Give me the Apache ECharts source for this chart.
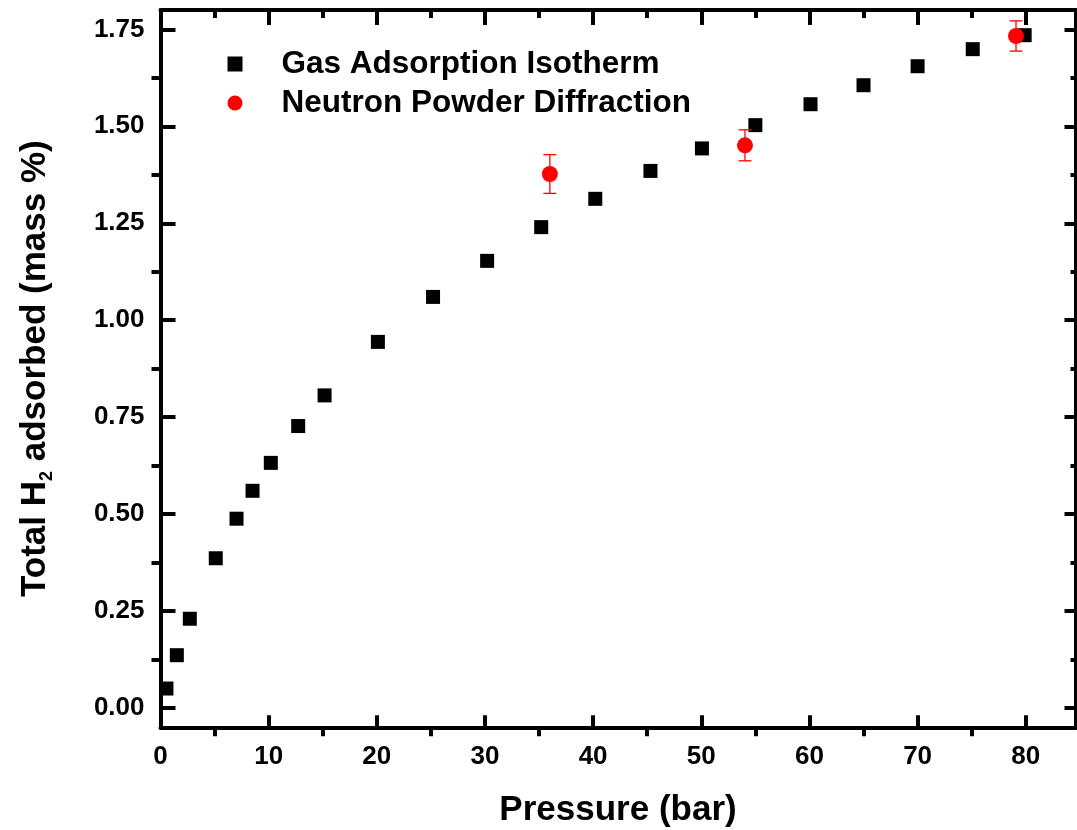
<!DOCTYPE html>
<html>
<head>
<meta charset="utf-8">
<title>Total H2 adsorbed vs pressure</title>
<script src="https://cdn.jsdelivr.net/npm/echarts@6/dist/echarts.min.js"></script>
<style>
  html, body { margin: 0; padding: 0; background: #fff; }
  #chart { width: 1077px; height: 830px; }
</style>
</head>
<body>
<div id="chart"></div>
<script>
// Gas adsorption isotherm: pressure (bar) and total H2 uptake (mass %)
const gasPressure = [0.55, 1.51, 2.71, 5.11, 7.03, 8.51, 10.2, 12.73, 15.17, 20.1, 25.2, 30.2,
                     35.2, 40.2, 45.3, 50.06, 55.0, 60.1, 65.0, 70.0, 75.1, 79.9];
const gasUptake   = [0.050, 0.136, 0.230, 0.386, 0.488, 0.560, 0.632, 0.727, 0.806, 0.944, 1.060, 1.153,
                     1.240, 1.313, 1.385, 1.443, 1.503, 1.557, 1.606, 1.655, 1.699, 1.735];

// Neutron powder diffraction: pressure, uptake and its uncertainty
const npdPressure = [36.0, 54.04, 79.1];
const npdUptake   = [1.377, 1.451, 1.733];
const npdError    = [0.050, 0.040, 0.039];

// Axis ticks
const xMajorTicks = [0, 10, 20, 30, 40, 50, 60, 70, 80];
const xMinorTicks = [5, 15, 25, 35, 45, 55, 65, 75];
const yMajorTicks = [0, 0.25, 0.5, 0.75, 1.0, 1.25, 1.5, 1.75];
const yMinorTicks = [0.125, 0.375, 0.625, 0.875, 1.125, 1.375, 1.625];

const seriesNames = ['Gas Adsorption Isotherm', 'Neutron Powder Diffraction'];

const FONT = "'Liberation Sans', Arial, Helvetica, sans-serif";
const INK = '#000';
const RED = '#ff0000';
const AXIS_W = 4;
const X_RANGE = { min: 0, max: 84.6 };
const Y_RANGE = { min: -0.05, max: 1.8 };

function tickAxis(extra) {
  return Object.assign({
    type: 'value',
    splitLine: { show: false },
    axisLabel: { show: false },
    axisLine: { show: false, onZero: false },
    axisPointer: { show: false }
  }, extra);
}

function lineStyle() {
  return { color: INK, width: AXIS_W };
}

const labelStyle = {
  fontFamily: FONT, fontWeight: 'bold', fontSize: 26, color: INK
};

const chart = echarts.init(document.getElementById('chart'), null, { renderer: 'canvas' });

chart.setOption({
  animation: false,
  backgroundColor: '#fff',
  grid: {
    left: 160.5, right: 1.5, top: 10, bottom: 102.7,
    containLabel: false, outerBoundsMode: 'none'
  },
  legend: {
    data: [
      { name: seriesNames[0], icon: 'rect' },
      { name: seriesNames[1], icon: 'circle' }
    ],
    orient: 'vertical',
    left: 222.5,
    top: 42,
    itemWidth: 15,
    itemHeight: 15,
    itemGap: 5,
    selectedMode: false,
    itemStyle: { opacity: 1 },
    textStyle: {
      fontFamily: FONT, fontWeight: 'bold', fontSize: 31.5, color: INK,
      lineHeight: 34, padding: [0, 0, 0, 34]
    }
  },
  xAxis: [
    tickAxis(Object.assign({}, X_RANGE, {
      position: 'bottom',
      axisLine: { show: true, onZero: false, lineStyle: lineStyle() },
      axisTick: { show: true, inside: true, length: 12, customValues: xMajorTicks, lineStyle: lineStyle() },
      axisLabel: { show: true, margin: 17, customValues: xMajorTicks, ...labelStyle },
      name: 'Pressure (bar)',
      nameLocation: 'middle',
      nameGap: 66,
      nameTextStyle: { fontFamily: FONT, fontWeight: 'bold', fontSize: 35, color: INK }
    })),
    tickAxis(Object.assign({}, X_RANGE, {
      position: 'bottom',
      axisTick: { show: true, inside: false, length: 9, customValues: xMinorTicks, lineStyle: lineStyle() }
    })),
    tickAxis(Object.assign({}, X_RANGE, {
      position: 'top',
      axisLine: { show: true, onZero: false, lineStyle: lineStyle() },
      axisTick: { show: true, inside: true, length: 15, customValues: xMajorTicks, lineStyle: lineStyle() }
    })),
    tickAxis(Object.assign({}, X_RANGE, {
      position: 'top',
      axisTick: { show: true, inside: true, length: 8, customValues: xMinorTicks, lineStyle: lineStyle() }
    }))
  ],
  yAxis: [
    tickAxis(Object.assign({}, Y_RANGE, {
      position: 'left',
      axisLine: { show: true, onZero: false, lineStyle: lineStyle() },
      axisTick: { show: true, inside: true, length: 15, customValues: yMajorTicks, lineStyle: lineStyle() },
      axisLabel: {
        show: true, margin: 16, customValues: yMajorTicks, ...labelStyle,
        formatter: v => Number(v).toFixed(2)
      },
      name: '{b|Total H}{s|2}{b| adsorbed (mass %)}',
      nameLocation: 'middle',
      nameGap: 104,
      nameTextStyle: {
        rich: {
          b: { fontFamily: FONT, fontWeight: 'bold', fontSize: 35, color: INK, lineHeight: 42 },
          s: { fontFamily: FONT, fontWeight: 'bold', fontSize: 18, color: INK, lineHeight: 17, verticalAlign: 'bottom' }
        }
      }
    })),
    tickAxis(Object.assign({}, Y_RANGE, {
      position: 'left',
      axisTick: { show: true, inside: false, length: 9, customValues: yMinorTicks, lineStyle: lineStyle() }
    })),
    tickAxis(Object.assign({}, Y_RANGE, {
      position: 'right',
      axisLine: { show: true, onZero: false, lineStyle: lineStyle() },
      axisTick: { show: true, inside: true, length: 11, customValues: yMajorTicks, lineStyle: lineStyle() }
    })),
    tickAxis(Object.assign({}, Y_RANGE, {
      position: 'right',
      axisTick: { show: true, inside: true, length: 5, customValues: yMinorTicks, lineStyle: lineStyle() }
    }))
  ],
  series: [
    {
      name: seriesNames[0],
      type: 'scatter',
      xAxisIndex: 0, yAxisIndex: 0,
      symbol: 'rect',
      symbolSize: 14,
      itemStyle: { color: INK, opacity: 1 },
      z: 3,
      data: gasPressure.map((p, i) => [p, gasUptake[i]])
    },
    {
      name: 'npd-error',
      type: 'custom',
      xAxisIndex: 0, yAxisIndex: 0,
      z: 4,
      silent: true,
      encode: { x: 0, y: 1 },
      data: npdPressure.map((p, i) => [p, npdUptake[i], npdError[i]]),
      renderItem: (params, api) => {
        const x = api.value(0), y = api.value(1), e = api.value(2);
        const hi = api.coord([x, y + e]);
        const lo = api.coord([x, y - e]);
        const cap = 6.5;
        const st = { stroke: RED, lineWidth: 1.3 };
        return {
          type: 'group',
          children: [
            { type: 'line', shape: { x1: hi[0], y1: hi[1], x2: lo[0], y2: lo[1] }, style: st },
            { type: 'line', shape: { x1: hi[0] - cap, y1: hi[1], x2: hi[0] + cap, y2: hi[1] }, style: st },
            { type: 'line', shape: { x1: lo[0] - cap, y1: lo[1], x2: lo[0] + cap, y2: lo[1] }, style: st }
          ]
        };
      }
    },
    {
      name: seriesNames[1],
      type: 'scatter',
      xAxisIndex: 0, yAxisIndex: 0,
      symbol: 'circle',
      symbolSize: 16,
      itemStyle: { color: RED, opacity: 1 },
      z: 5,
      data: npdPressure.map((p, i) => [p, npdUptake[i]])
    }
  ]
});
</script>
</body>
</html>
